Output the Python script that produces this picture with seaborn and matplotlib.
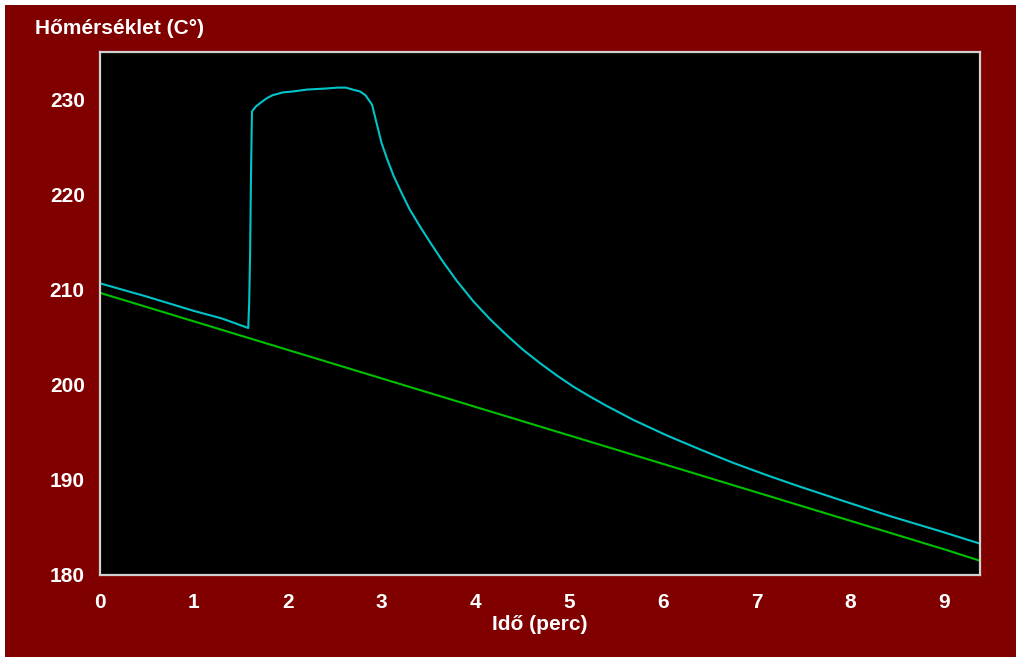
import matplotlib
matplotlib.use("Agg")
import matplotlib.pyplot as plt
import seaborn as sns
import pandas as pd
from matplotlib.patches import Rectangle

# ---- data ----
cyan_x = [0.0, 0.5, 1.0, 1.3, 1.58, 1.59, 1.60, 1.61, 1.62, 1.66, 1.71, 1.78, 1.84, 1.95,
          2.06, 2.21, 2.40, 2.53, 2.62, 2.69, 2.77, 2.83, 2.90, 2.93, 2.97, 3.00, 3.06,
          3.13, 3.22, 3.30, 3.41, 3.52, 3.64, 3.80, 3.98, 4.16, 4.34, 4.51, 4.69, 4.87,
          5.05, 5.22, 5.40, 5.69, 6.04, 6.40, 6.75, 7.11, 7.46, 7.89, 8.42, 8.96, 9.38]
cyan_y = [210.7, 209.3, 207.8, 207.0, 206.0, 208.6, 213.8, 222.5, 228.8, 229.3, 229.7, 230.2,
          230.5, 230.8, 230.9, 231.1, 231.2, 231.3, 231.3, 231.1, 230.9, 230.5, 229.5, 228.3,
          226.7, 225.5, 223.8, 222.0, 220.1, 218.5, 216.7, 215.0, 213.2, 211.0, 208.8, 206.9,
          205.2, 203.7, 202.3, 201.0, 199.8, 198.8, 197.8, 196.3, 194.7, 193.2, 191.8, 190.5,
          189.3, 187.9, 186.2, 184.6, 183.3]

green_x = [0.0, 1.0, 2.0, 3.0, 4.0, 5.0, 6.0, 7.0, 8.0, 9.0, 9.38]
green_y = [209.7, 206.7, 203.7, 200.7, 197.7, 194.7, 191.7, 188.7, 185.7, 182.7, 181.5]

x_ticks = [0, 1, 2, 3, 4, 5, 6, 7, 8, 9]
y_ticks = [180, 190, 200, 210, 220, 230]
title_text = "Hőmérséklet (C°)"
xlabel_text = "Idő (perc)"

BG = "#800000"
FONT = "Liberation Sans"

sns.set_style("dark")
plt.rcParams["font.family"] = [FONT, "DejaVu Sans"]
plt.rcParams["font.weight"] = "bold"

fig = plt.figure(figsize=(10.16, 6.57), dpi=100, facecolor=BG)
ax = fig.add_axes([100 / 1016, 1 - 575 / 657, 880 / 1016, 523 / 657])
ax.set_facecolor("black")

df_c = pd.DataFrame({"t": cyan_x, "T": cyan_y})
df_g = pd.DataFrame({"t": green_x, "T": green_y})
sns.lineplot(data=df_g, x="t", y="T", ax=ax, color="#00C000", linewidth=1.5,
             estimator=None, sort=False)
sns.lineplot(data=df_c, x="t", y="T", ax=ax, color="#00C4C8", linewidth=1.5,
             estimator=None, sort=False)

ax.set_xlim(0, 9.38)
ax.set_ylim(180, 235.05)
ax.set_xticks(x_ticks)
ax.set_yticks(y_ticks)
ax.grid(False)

for s in ax.spines.values():
    s.set_visible(True)
    s.set_color("#D0D0D0")
    s.set_linewidth(1.6)

ax.tick_params(axis="x", colors="white", length=6, width=1.5, direction="out",
               pad=7, labelsize=15)
ax.tick_params(axis="y", colors="white", length=9, width=1.5, direction="out",
               pad=2, labelsize=15)
for lab in ax.get_xticklabels() + ax.get_yticklabels():
    lab.set_fontweight("bold")
    lab.set_color("white")

ax.set_xlabel(xlabel_text, color="white", fontsize=15, fontweight="bold", labelpad=2)
ax.set_ylabel("")

fig.text(35 / 1016, 1 - 28 / 657, title_text, color="white", fontsize=15,
         fontweight="bold", va="center", ha="left")

# thin white strips at top and left edges
fig.patches.append(Rectangle((0, 1 - 5 / 657), 1, 5 / 657, transform=fig.transFigure,
                             facecolor="white", edgecolor="none", zorder=10))
fig.patches.append(Rectangle((0, 0), 5 / 1016, 1, transform=fig.transFigure,
                             facecolor="white", edgecolor="none", zorder=10))

fig.savefig("out.png", dpi=100, facecolor=BG)
